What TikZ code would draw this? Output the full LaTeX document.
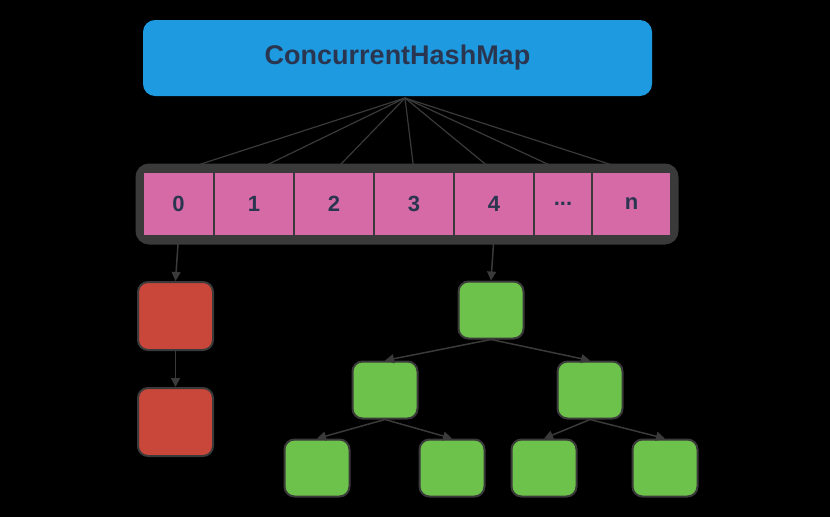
\documentclass[tikz,border=0pt]{standalone}
\usepackage{fontspec}
\setmainfont{Liberation Sans}
\usetikzlibrary{arrows.meta}
\definecolor{mapblue}{HTML}{1E9BE0}
\definecolor{binpink}{HTML}{D66AA6}
\definecolor{listred}{HTML}{C8473A}
\definecolor{treegreen}{HTML}{6CC24A}
\definecolor{edgegray}{HTML}{3A3A3A}
\definecolor{labeltext}{HTML}{2A3550}
\newcommand\bindots{...}
\tikzset{
  bin/.style={draw=edgegray,line width=1.5pt,fill=binpink,minimum height=64pt,inner sep=0pt,
    font=\bfseries\fontsize{22}{24}\selectfont,text=labeltext},
  listnode/.style={draw=edgegray,line width=2pt,fill=listred,rounded corners=10pt,minimum width=75pt,minimum height=68pt},
  treenode/.style={draw=edgegray,line width=2pt,fill=treegreen,rounded corners=10pt,minimum width=65pt,minimum height=57pt},
  link/.style={draw=edgegray,line width=1.5pt,-{Triangle[length=9pt,width=9pt]}},
  fan/.style={draw=edgegray,line width=1.2pt}
}
\begin{document}
\begin{tikzpicture}[x=1pt,y=-1pt]
        \fill (0,0) rectangle (830,517);
        \useasboundingbox (0,0) rectangle (830,517);
        % Map
        \node[draw=none,fill=mapblue,rounded corners=12pt,minimum width=509pt,minimum height=76pt,
          font=\bfseries\fontsize{27}{30}\selectfont,text=labeltext] (map) at (397.5,58) {ConcurrentHashMap};
        \coordinate (hub) at (405,98);
        % Bins
        \draw[edgegray,line width=3pt,rounded corners=12pt,fill=edgegray] (137,165) rectangle (677,243);
        \foreach \name/\l/\r/\txt in {b0/143/214/0,b1/214/294/1,b2/294/374/2,b3/374/454/3,b4/454/534/4,b5/534/592/\bindots,b6/592/671/n}{
          \node[bin,minimum width={(\r-\l)*1pt}] (\name) at ({(\l+\r)/2},204) {\txt};
          \draw[fan] (hub) -- (\name.north);
        }
        % List
        \node[listnode] (l1) at (175.5,316) {};
        \node[listnode] (l2) at (175.5,422) {};
        \draw[link] (b0.south) -- (l1.north);
        \draw[link] (l1.south) -- (l2.north);
        % Tree
        \node[treenode] (t0) at (491,310) {};
        \node[treenode] (t1) at (385,390) {};
        \node[treenode] (t2) at (590,390) {};
        \node[treenode] (t3) at (317,468) {};
        \node[treenode] (t4) at (452,468) {};
        \node[treenode] (t5) at (544,468) {};
        \node[treenode] (t6) at (665,468) {};
        \draw[link] (b4.south) -- (t0.north);
        \foreach \p/\c in {t0/t1,t0/t2,t1/t3,t1/t4,t2/t5,t2/t6}
          \draw[link] (\p.south) -- (\c.north);
\end{tikzpicture}
\end{document}
